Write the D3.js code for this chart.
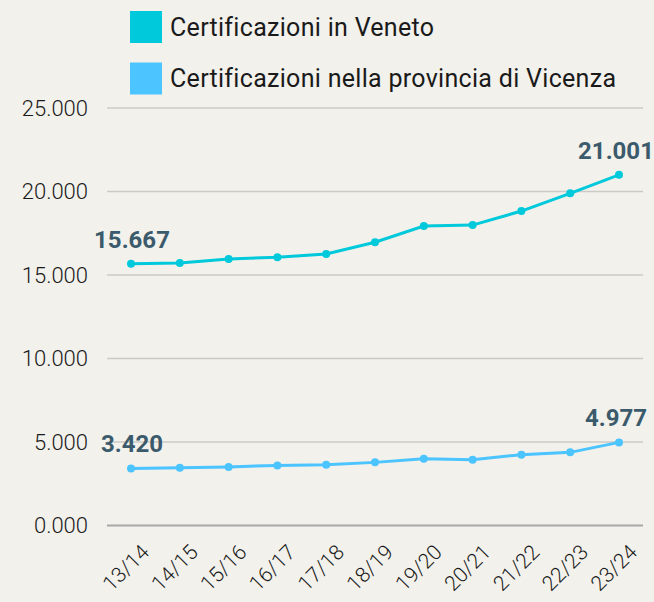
<!DOCTYPE html>
<html>
<head>
<meta charset="utf-8">
<script src="https://cdn.jsdelivr.net/npm/d3@7"></script>
<style>
  body { margin: 0; background: #f2f1ec; }
  svg { display: block; font-family: Roboto, "Noto Sans", sans-serif; }
</style>
</head>
<body>
<script>
const years = ["13/14","14/15","15/16","16/17","17/18","18/19","19/20","20/21","21/22","22/23","23/24"]
const veneto = [15667, 15720, 15960, 16060, 16260, 16960, 17930, 17990, 18830, 19890, 21001]
const vicenza = [3420, 3460, 3510, 3600, 3640, 3780, 4000, 3940, 4240, 4380, 4977]
const yTicks = [0, 5000, 10000, 15000, 20000, 25000]
const yTickLabels = ["0.000", "5.000", "10.000", "15.000", "20.000", "25.000"]
const seriesNames = ["Certificazioni in Veneto", "Certificazioni nella provincia di Vicenza"]
const colors = ["#00c9db", "#4cc4ff"]

const width = 654, height = 602

const x = d3.scalePoint().domain(years).range([131, 619])
const y = d3.scaleLinear().domain([0, 25000]).range([525.5, 108])

const svg = d3.select("body").append("svg")
    .attr("width", width)
    .attr("height", height)

// griglia
svg.append("g")
  .selectAll("line")
  .data(yTicks)
  .join("line")
    .attr("x1", 107).attr("x2", 643)
    .attr("y1", d => y(d)).attr("y2", d => y(d))
    .attr("stroke", d => d === 0 ? "#a8a8a8" : "#cbcac6")
    .attr("stroke-width", d => d === 0 ? 2 : 1.5)

svg.append("g")
  .selectAll("text")
  .data(yTicks)
  .join("text")
    .attr("x", 88)
    .attr("y", d => y(d))
    .attr("dy", "0.35em")
    .attr("text-anchor", "end")
    .attr("font-size", 22)
    .attr("font-weight", 300)
    .attr("fill", "#1a1a1a")
    .text((d, i) => yTickLabels[i])

// etichette asse x
svg.append("g")
  .selectAll("text")
  .data(years)
  .join("text")
    .attr("transform", d => `translate(${x(d) + 9},${543}) rotate(-45)`)
    .attr("text-anchor", "end")
    .attr("dy", "0.7em")
    .attr("font-size", 21)
    .attr("font-weight", 300)
    .attr("fill", "#1a1a1a")
    .text(d => d)

const line = d3.line().x((d, i) => x(years[i])).y(d => y(d))

;[veneto, vicenza].forEach((vals, k) => {
  const g = svg.append("g")
  g.append("path")
    .attr("d", line(vals))
    .attr("fill", "none")
    .attr("stroke", colors[k])
    .attr("stroke-width", 3)
  g.selectAll("circle")
    .data(vals)
    .join("circle")
      .attr("cx", (d, i) => x(years[i]))
      .attr("cy", d => y(d))
      .attr("r", 4)
      .attr("fill", colors[k])
  // primo e ultimo valore
  const ends = [0, vals.length - 1]
  g.selectAll("text")
    .data(ends)
    .join("text")
      .attr("x", i => x(years[i]) + (i === 0 ? 1 : -3))
      .attr("y", i => y(vals[i]) - 16)
      .attr("text-anchor", "middle")
      .attr("font-size", 24)
      .attr("font-weight", "bold")
      .attr("fill", "#3b5a6b")
      .text(i => d3.format(",")(vals[i]).replace(/,/g, "."))
})

// legenda
const legend = svg.append("g")
  .selectAll("g")
  .data(seriesNames)
  .join("g")
    .attr("transform", (d, i) => `translate(130,${11 + i * 51.5})`)
legend.append("rect")
    .attr("width", 32).attr("height", 32)
    .attr("fill", (d, i) => colors[i])
legend.append("text")
    .attr("x", 40).attr("y", 16)
    .attr("dy", "0.35em")
    .attr("font-size", 25)
    .attr("letter-spacing", 0.3)
    .attr("fill", "#1a1a1a")
    .text(d => d)
</script>
</body>
</html>
